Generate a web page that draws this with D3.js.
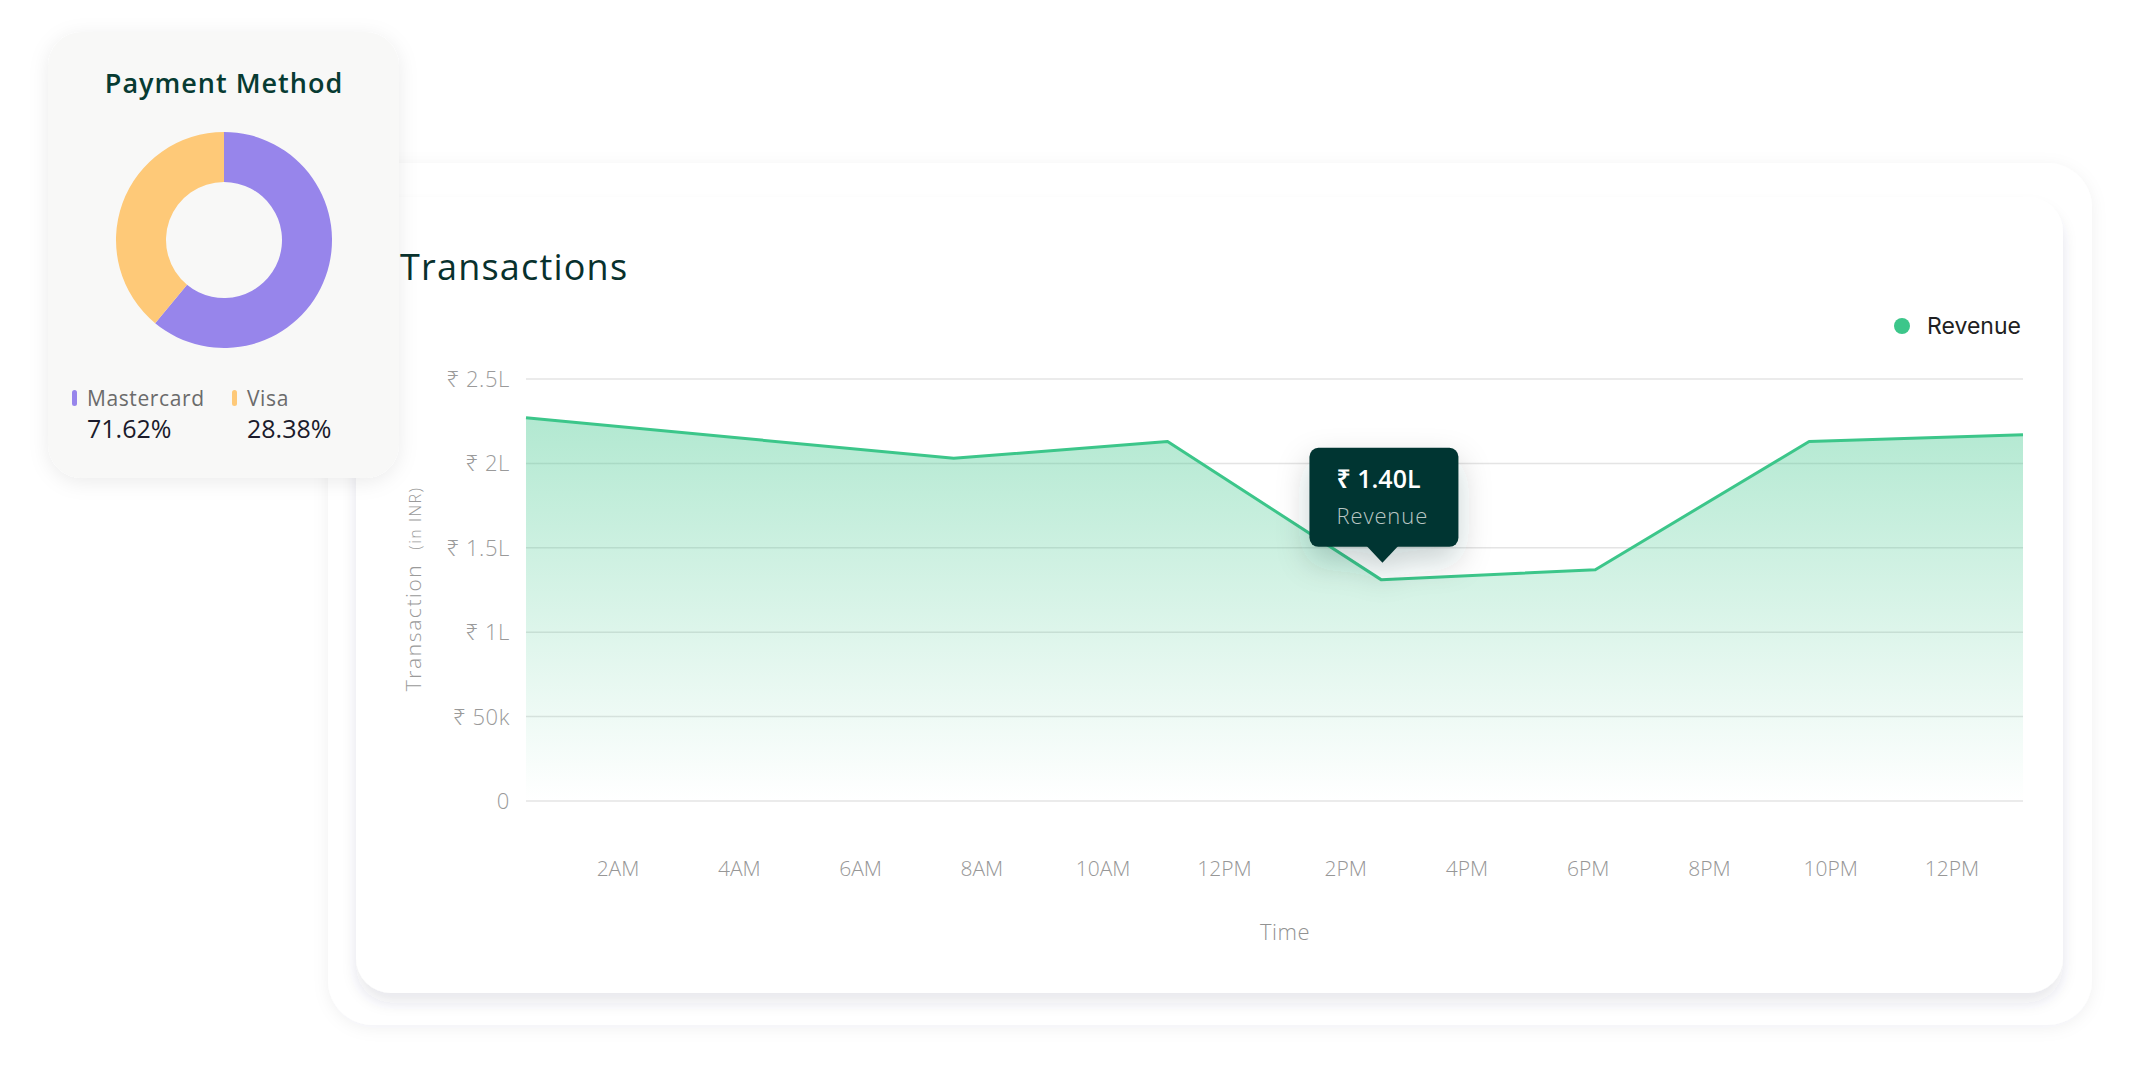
<!DOCTYPE html>
<html>
<head>
  <meta charset="utf-8">
  <title>Transactions dashboard</title>
  <script src="https://cdn.jsdelivr.net/npm/d3@7"></script>
  <style>
    html, body { margin: 0; padding: 0; background: #ffffff; }
    svg { display: block; font-family: "Open Sans", "Noto Sans", sans-serif; }
    .grid line { stroke: #e4e4e4; stroke-width: 1.5; }
    .tick-label { fill: #9a9a9a; font-size: 22px; font-weight: 300; letter-spacing: 0.6px; }
    .x-label { fill: #979797; font-size: 21px; font-weight: 300; }
  </style>
</head>
<body>
<svg id="chart" width="2134" height="1072"></svg>

<script>
// ---- data ----
var paymentMethods = ['Mastercard', 'Visa'];
var paymentShares = [61, 39];            // slice sizes as drawn in the donut
var paymentLabels = ['71.62%', '28.38%'];

var revenue = [2.27, 2.15, 2.03, 2.13, 1.31, 1.37, 2.13, 2.17];   // in lakh
var timeLabels = ['2AM', '4AM', '6AM', '8AM', '10AM', '12PM',
                  '2PM', '4PM', '6PM', '8PM', '10PM', '12PM'];
var yTicks = [0, 0.5, 1, 1.5, 2, 2.5];
var yTickLabels = ['0', '₹ 50k', '₹ 1L', '₹ 1.5L', '₹ 2L', '₹ 2.5L'];

var tooltipIndex = 4;
var tooltipValue = '₹ 1.40L';
var tooltipName = 'Revenue';

// ---- styles ----
var payColors = ['#9785eb', '#fec978'];
var green = '#3cc68a';
var darkGreen = '#08312d';

var svg = d3.select('#chart');
var defs = svg.append('defs');

// shadows
var f1 = defs.append('filter').attr('id', 'outerShadow')
  .attr('x', '-5%').attr('y', '-5%').attr('width', '110%').attr('height', '115%');
f1.append('feDropShadow').attr('dx', 0).attr('dy', 3).attr('stdDeviation', 8)
  .attr('flood-color', '#1e2a50').attr('flood-opacity', 0.06);

var f2 = defs.append('filter').attr('id', 'innerShadow')
  .attr('x', '-5%').attr('y', '-5%').attr('width', '110%').attr('height', '115%');
f2.append('feDropShadow').attr('dx', 0).attr('dy', 10).attr('stdDeviation', 7)
  .attr('flood-color', '#2a3460').attr('flood-opacity', 0.11);

var f3 = defs.append('filter').attr('id', 'cardShadow')
  .attr('x', '-20%').attr('y', '-20%').attr('width', '140%').attr('height', '140%');
f3.append('feDropShadow').attr('dx', 0).attr('dy', 4).attr('stdDeviation', 10)
  .attr('flood-color', '#000').attr('flood-opacity', 0.08);

var f4 = defs.append('filter').attr('id', 'tipShadow')
  .attr('x', '-60%').attr('y', '-60%').attr('width', '220%').attr('height', '220%');
f4.append('feDropShadow').attr('dx', 0).attr('dy', 14).attr('stdDeviation', 16)
  .attr('flood-color', '#0a3a2e').attr('flood-opacity', 0.22);

// ---- transactions cards ----
svg.append('rect')
  .attr('x', 328).attr('y', 163).attr('width', 1764).attr('height', 862)
  .attr('rx', 45).attr('fill', '#fff').attr('filter', 'url(#outerShadow)');

svg.append('rect')
  .attr('x', 356).attr('y', 197).attr('width', 1707).attr('height', 796)
  .attr('rx', 35).attr('fill', '#fff').attr('filter', 'url(#innerShadow)');

svg.append('text')
  .attr('x', 400).attr('y', 280)
  .style('font-size', '36px').style('font-weight', 500)
  .style('letter-spacing', '1.2px')
  .attr('fill', darkGreen)
  .text('Transactions');

// ---- scales ----
var x = d3.scaleLinear().domain([0, revenue.length - 1]).range([526, 2023]);
var y = d3.scaleLinear().domain([0, 2.5]).range([801, 379]);
var xLab = d3.scalePoint().domain(d3.range(timeLabels.length)).range([618, 1952]);

// gradient for area
var grad = defs.append('linearGradient').attr('id', 'areaGrad')
  .attr('gradientUnits', 'userSpaceOnUse')
  .attr('x1', 0).attr('x2', 0).attr('y1', y(2.3)).attr('y2', y(0));
grad.append('stop').attr('offset', '0%').attr('stop-color', green).attr('stop-opacity', 0.4);
grad.append('stop').attr('offset', '97%').attr('stop-color', green).attr('stop-opacity', 0.01);
grad.append('stop').attr('offset', '100%').attr('stop-color', green).attr('stop-opacity', 0);

// grid
svg.append('g').attr('class', 'grid')
  .selectAll('line')
  .data(yTicks)
  .enter()
  .append('line')
  .attr('x1', x.range()[0]).attr('x2', x.range()[1])
  .attr('y1', d => y(d)).attr('y2', d => y(d));

// y tick labels
svg.append('g')
  .selectAll('text')
  .data(yTicks)
  .enter()
  .append('text')
  .attr('class', 'tick-label')
  .attr('x', 510)
  .attr('y', d => y(d) + 8)
  .attr('text-anchor', 'end')
  .text((d, i) => yTickLabels[i]);

// y title
var yTitle = svg.append('text')
  .attr('transform', 'translate(421,589) rotate(-90)')
  .attr('text-anchor', 'middle')
  .attr('fill', '#9a9a9a')
  .style('font-weight', 300);
yTitle.append('tspan').style('font-size', '21px').style('letter-spacing', '1.6px').text('Transaction');
yTitle.append('tspan').attr('dx', 14).style('font-size', '16px').style('letter-spacing', '1.5px').text('(in INR)');

// area + line
var area = d3.area()
  .x((d, i) => x(i))
  .y0(y(0))
  .y1(d => y(d));

var line = d3.line()
  .x((d, i) => x(i))
  .y(d => y(d));

svg.append('path')
  .datum(revenue)
  .attr('d', area)
  .attr('fill', 'url(#areaGrad)');

svg.append('path')
  .datum(revenue)
  .attr('d', line)
  .attr('fill', 'none')
  .attr('stroke', green)
  .attr('stroke-width', 3)
  .attr('stroke-linejoin', 'round');

// x labels
svg.append('g')
  .selectAll('text')
  .data(timeLabels)
  .enter()
  .append('text')
  .attr('class', 'x-label')
  .attr('x', (d, i) => xLab(i))
  .attr('y', 876)
  .attr('text-anchor', 'middle')
  .text(d => d);

svg.append('text')
  .attr('x', (xLab.range()[0] + xLab.range()[1]) / 2)
  .attr('y', 940)
  .attr('text-anchor', 'middle')
  .attr('fill', '#929292')
  .style('font-size', '22px').style('font-weight', 300)
  .style('letter-spacing', '0.5px')
  .text('Time');

// legend
svg.append('circle')
  .attr('cx', 1902).attr('cy', 326).attr('r', 8)
  .attr('fill', green);
svg.append('text')
  .attr('x', 1927).attr('y', 334)
  .attr('fill', '#1f1f22')
  .style('font-family', 'Inter, sans-serif')
  .style('font-size', '23px')
  .text('Revenue');

// tooltip
var px = x(tooltipIndex), py = y(revenue[tooltipIndex]);
var tip = svg.append('g').attr('filter', 'url(#tipShadow)');
tip.append('rect')
  .attr('x', px - 72).attr('y', py - 132)
  .attr('width', 149).attr('height', 99)
  .attr('rx', 9)
  .attr('fill', '#023430');
tip.append('path')
  .attr('d', d3.line()([[px - 15, py - 34], [px + 17, py - 34], [px + 1, py - 17]]) + 'Z')
  .attr('fill', '#023430');
svg.append('text')
  .attr('x', px - 45).attr('y', py - 92)
  .attr('fill', '#fff')
  .style('font-size', '25px').style('font-weight', 600)
  .text(tooltipValue);
svg.append('text')
  .attr('x', px - 45).attr('y', py - 56)
  .attr('fill', '#b9c6c3')
  .style('font-size', '22px').style('font-weight', 300)
  .style('letter-spacing', '0.9px')
  .text(tooltipName);

// ---- payment method card ----
var card = svg.append('g');
card.append('rect')
  .attr('x', 48).attr('y', 32).attr('width', 351).attr('height', 446)
  .attr('rx', 34)
  .attr('fill', '#f8f8f7')
  .attr('filter', 'url(#cardShadow)');

card.append('text')
  .attr('x', 224).attr('y', 93)
  .attr('text-anchor', 'middle')
  .attr('fill', '#073b32')
  .style('font-size', '27px').style('font-weight', 600)
  .style('letter-spacing', '1px')
  .text('Payment Method');

var pie = d3.pie().sort(null)(paymentShares);
var arc = d3.arc().innerRadius(58).outerRadius(108);

card.append('g')
  .attr('transform', 'translate(224,240)')
  .selectAll('path')
  .data(pie)
  .enter()
  .append('path')
  .attr('d', arc)
  .attr('fill', (d, i) => payColors[i]);

var leg = card.selectAll('g.leg')
  .data(paymentMethods)
  .enter()
  .append('g')
  .attr('class', 'leg')
  .attr('transform', (d, i) => 'translate(' + (72 + i * 160) + ',0)');

leg.append('rect')
  .attr('x', 0).attr('y', 390).attr('width', 5).attr('height', 16)
  .attr('rx', 2.5)
  .attr('fill', (d, i) => payColors[i]);

leg.append('text')
  .attr('x', 15).attr('y', 406)
  .attr('fill', '#6b6b6b')
  .style('font-size', '21px')
  .style('letter-spacing', '0.6px')
  .text(d => d);

leg.append('text')
  .attr('x', 15).attr('y', 438)
  .attr('fill', '#1b1b2b')
  .style('font-size', '25px').style('font-weight', 500)
  .text((d, i) => paymentLabels[i]);
</script>
</body>
</html>
